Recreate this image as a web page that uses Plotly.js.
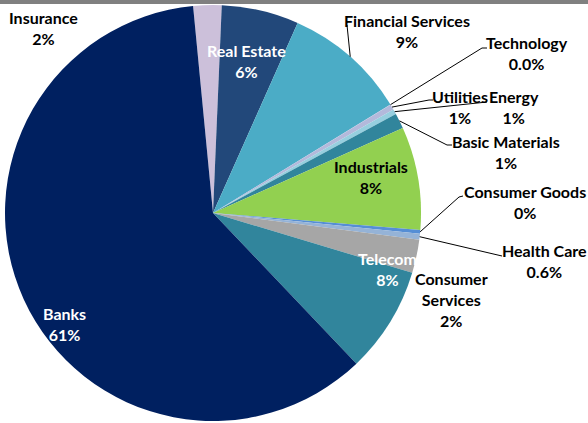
<!DOCTYPE html>
<html>
<head>
<meta charset="utf-8">
<script src="https://cdn.plot.ly/plotly-3.0.1.min.js"></script>
<style>html,body{margin:0;padding:0;background:#fff;}#chart{width:588px;height:423px;}</style>
</head>
<body>
<div id="chart"></div>
<script>
// ---- data ----
const categories = ['Insurance','Real Estate','Financial Services','Technology','Utilities','Energy','Basic Materials','Industrials','Consumer Goods','Health Care','Consumer Services','Telecom','Banks'];
const values = [2.2, 6.0, 9.6, 0.02, 0.42, 0.39, 1.2, 8.0, 0.3, 0.45, 2.6, 8.25, 60.6];
const pctLabels = ['2%','6%','9%','0.0%','1%','1%','1%','8%','0%','0.6%','2%','8%','61%'];
const nameLines = ['Insurance','Real Estate','Financial Services','Technology','Utilities','Energy','Basic Materials','Industrials','Consumer Goods','Health Care','Consumer<br>Services','Telecom','Banks'];

// ---- styling / layout ----
const colors = ['#CCC0DA','#22487A','#4BACC6','#B3B9DB','#B3B9DB','#97CFDF','#31859C','#92D050','#558ED5','#95B3D7','#A6A6A6','#31859C','#002060'];
const textColors = ['#000','#fff','#000','#000','#000','#000','#000','#000','#000','#000','#000','#fff','#fff'];
// label centres in pixels
const labelPos = [[43,28],[246,61],[407,31],[527,53],[460,107],[514,107],[506,152],[371,177],[525,202],[544,261],[451,299],[387,269],[64,324]];
// leader line end points (pixels) near the label; null = no leader line
const leaderEnds = [null,null,[[347,25]],[[482,48],[487,48]],[[429,100],[433,100]],[[487,102]],[[447,145],[452,145]],null,[[459,197],[463,196]],[[502,256]],null,null,null];

const W = 588, H = 423;
const cx = 213, cy = 213, R = 208;
const rotation = -5.5;

const px2x = p => p / W;
const py2y = p => 1 - p / H;

const total = values.reduce((a,b)=>a+b,0);
const midAngles = [];
let acc = rotation;
values.forEach(v => { const span = v/total*360; midAngles.push(acc + span/2); acc += span; });

const annotations = categories.map((c,i) => ({
  x: px2x(labelPos[i][0]), y: py2y(labelPos[i][1]), xref:'paper', yref:'paper',
  xanchor:'center', yanchor:'middle', showarrow:false, align:'center',
  text: '<b>' + nameLines[i] + '<br>' + pctLabels[i] + '</b>',
  font: {family:'Lato, "Open Sans", sans-serif', size:16, color:textColors[i]}
}));

const shapes = [{type:'rect', xref:'paper', yref:'paper', x0:0, x1:1, y0:py2y(4), y1:1, fillcolor:'#808080', line:{width:0}}];
leaderEnds.forEach((ends,i) => {
  if (!ends) return;
  const a = midAngles[i] * Math.PI/180;
  const tx = cx + R*Math.sin(a), ty = cy - R*Math.cos(a);
  let path = 'M' + px2x(tx) + ',' + py2y(ty);
  ends.forEach(p => { path += ' L' + px2x(p[0]) + ',' + py2y(p[1]); });
  shapes.push({type:'path', xref:'paper', yref:'paper', path:path, line:{color:'#000', width:1}});
});

const trace = {
  type:'pie', labels:categories, values:values, sort:false, direction:'clockwise', rotation:rotation,
  textinfo:'none', hoverinfo:'label+percent',
  marker:{colors:colors, line:{width:0}},
  domain:{x:[(cx-R)/W,(cx+R)/W], y:[1-(cy+R)/H, 1-(cy-R)/H]}
};

const layout = {
  width:W, height:H, margin:{l:0,r:0,t:0,b:0}, showlegend:false,
  paper_bgcolor:'#fff', plot_bgcolor:'#fff', annotations:annotations, shapes:shapes
};

Plotly.newPlot('chart',[trace],layout,{displayModeBar:false, staticPlot:true});
</script>
</body>
</html>
